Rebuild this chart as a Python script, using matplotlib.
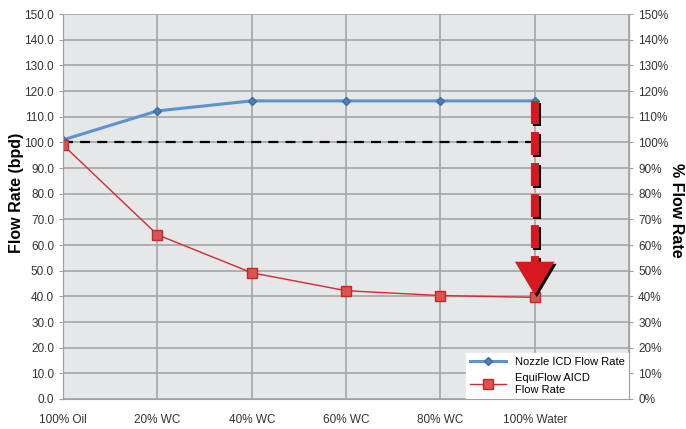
import numpy as np
import matplotlib
matplotlib.use("Agg")
import matplotlib.pyplot as plt
from matplotlib.patches import Polygon
import matplotlib.patheffects as pe

plt.rcParams['font.family'] = ['Liberation Sans', 'DejaVu Sans']

categories = ['100% Oil', '20% WC', '40% WC', '60% WC', '80% WC', '100% Water']
nozzle = [101.0, 112.3, 116.2, 116.2, 116.2, 116.2]
equiflow = [99.0, 64.0, 49.2, 42.2, 40.3, 39.6]
baseline = 100.0

fig = plt.figure(figsize=(6.86, 4.29), dpi=100)
ax = fig.add_axes([0.092, 0.07, 0.825, 0.897])
ax.set_facecolor('#e6e7e9')

x = np.arange(len(categories))

ax.plot([x[0], x[-1]], [baseline, baseline], color='black', lw=1.6, dashes=(4.5, 3.2), zorder=3)
ax.plot(x, nozzle, color='#5b93cf', lw=2.2, marker='D', ms=4, mfc='#4a7fb8', mec='#3b6ea5',
        label='Nozzle ICD Flow Rate', zorder=4)
ax.plot(x, equiflow, color='#d42a2f', lw=1.0, marker='s', ms=6.5, mfc='#d9534f', mec='#c0282c',
        label='EquiFlow AICD\nFlow Rate', zorder=4)

# red dashed arrow with shadow
shadow = [pe.withSimplePatchShadow(offset=(1.5, -1.5), shadow_rgbFace='black', alpha=1.0)]
ax.plot([x[-1], x[-1]], [nozzle[-1], 53.0], color='#d7191f', lw=5.8, dashes=(2.85, 1.0),
        solid_capstyle='butt', zorder=5,
        path_effects=[pe.SimpleLineShadow(offset=(1.3, -1.3), shadow_color='black', alpha=1.0), pe.Normal()])
head = Polygon([[x[-1] - 0.21, 53.5], [x[-1] + 0.21, 53.5], [x[-1], 40.5]], closed=True,
               facecolor='#d7191f', edgecolor='none', zorder=5, path_effects=shadow)
ax.add_patch(head)

ax.set_xlim(0, 6)
ax.set_ylim(0, 150)
ax.set_xticks(np.arange(0, 7))
ax.set_xticklabels(categories + [''])
ax.set_yticks(np.arange(0, 151, 10))
ax.set_yticklabels([f'{v:.1f}' for v in np.arange(0, 151, 10)])
ax.grid(True, color='#a9a9a9', lw=1.3)
ax.set_axisbelow(True)
ax.tick_params(axis='both', labelsize=8.5, colors='#333333', length=3, color='#a0a0a0')
ax.tick_params(axis='x', length=0, pad=11)
for s in ax.spines.values():
    s.set_color('#a0a0a0')
ax.spines['top'].set_visible(False)

ax2 = ax.twinx()
ax2.set_ylim(0, 150)
ax2.set_yticks(np.arange(0, 151, 10))
ax2.set_yticklabels([f'{v}%' for v in range(0, 151, 10)])
ax2.tick_params(axis='y', labelsize=8.5, colors='#333333', length=3, color='#a0a0a0')
for s in ax2.spines.values():
    s.set_color('#a0a0a0')
ax2.spines['top'].set_visible(False)

fig.text(17 / 686, 1 - 193 / 429, 'Flow Rate (bpd)', fontsize=11.5, fontweight='bold',
         rotation=90, ha='center', va='center')
fig.text(676 / 686, 1 - 210 / 429, '% Flow Rate', fontsize=11.5, fontweight='bold',
         rotation=270, ha='center', va='center')

leg = ax.legend(loc='lower right', fontsize=8, frameon=True, fancybox=False,
                borderaxespad=0, handlelength=3.2, labelspacing=0.5)
leg.get_frame().set_edgecolor('white')
leg.get_frame().set_facecolor('white')
leg.get_frame().set_alpha(1.0)
leg.set_zorder(10)

fig.savefig('out.png', dpi=100)
